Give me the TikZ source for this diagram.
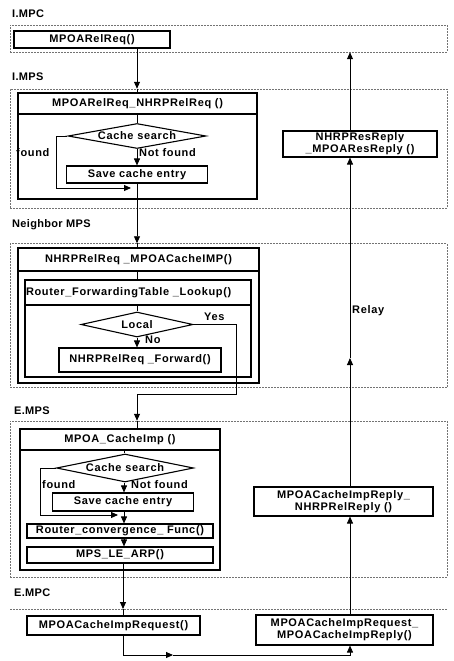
\documentclass[tikz,border=0pt]{standalone}
\usepackage{fontspec}
\setmainfont{Liberation Sans}[LetterSpace=6]
\newfontfamily\secfam{Liberation Sans}[LetterSpace=3]
\usetikzlibrary{shapes.geometric,arrows.meta}
\newcommand{\bxf}{\bfseries\fontsize{11}{12}\selectfont}
\newcommand{\secf}{\secfam\bfseries\fontsize{11}{12}\selectfont}
\tikzset{
  region/.style={draw=black!55, dash pattern=on 2pt off 1pt, line width=0.5pt, inner sep=0pt},
  regline/.style={draw=black!55, dash pattern=on 2pt off 1pt, line width=0.5pt},
  box/.style={draw, line width=1.1pt, inner sep=0pt, font=\bxf, align=center},
  frame/.style={draw, line width=1.1pt, inner sep=0pt},
  dia/.style={draw, diamond, line width=1.1pt, inner sep=0pt, font=\bxf},
  conn/.style={line width=0.9pt},
  arr/.style={conn, -{Triangle[length=7pt,width=6pt]}},
  lab/.style={font=\bxf, inner sep=0pt, anchor=west},
  sec/.style={font=\secf, inner sep=0pt, anchor=west},
}
\begin{document}
\begin{tikzpicture}[x=1pt,y=-1pt]
\useasboundingbox (0,0) rectangle (453,661);
% regions
\node[region, minimum width=437pt, minimum height=27pt] (r1) at (228.5,38.5) {};
\node[region, minimum width=437pt, minimum height=119pt] (r2) at (228.5,148.5) {};
\node[region, minimum width=437pt, minimum height=144pt] (r3) at (228.5,315.5) {};
\node[region, minimum width=437pt, minimum height=156pt] (r4) at (228.5,499) {};
\coordinate (r5w) at (10,609);
\coordinate (r5e) at (447,609);
\draw[regline] (r5w) -- (r5e);
% section labels
\node[sec] (s1) at (12,14) {I.MPC};
\node[sec] (s2) at (12,77) {I.MPS};
\node[sec] (s3) at (12,225) {Neighbor MPS};
\node[sec] (s4) at (14,411) {E.MPS};
\node[sec] (s5) at (14,593) {E.MPC};
% column coordinates
\coordinate (mx1) at (137,0);
\coordinate (mx3) at (124,0);
\coordinate (mx4) at (123,0);
\coordinate (rx) at (350,0);
% I.MPC
\node[box, minimum width=156pt, minimum height=17pt] (mpcreq) at (92,39.5) {MPOARelReq()};
% I.MPS
\node[frame, minimum width=239pt, minimum height=106pt] (o1) at (137.5,146) {};
\node[box, minimum width=239pt, minimum height=21pt] (hdr1) at (137.5,103.5) {MPOARelReq\_NHRPRelReq ()};
\node[dia, aspect=5.3, minimum width=138pt, minimum height=25pt] (cs1) at (137,136) {Cache search};
\node[box, minimum width=141pt, minimum height=17pt] (save1) at (137,174.5) {Save cache entry};
\node[lab] (fd1) at (16,153) {found};
\node[lab] (nf1) at (139,153) {Not found};
\node[box, minimum width=154pt, minimum height=26pt] (resreply) at (360,144) {NHRPResReply\\\_MPOAResReply ()};
% Neighbor MPS
\node[frame, minimum width=241pt, minimum height=135pt] (o2) at (138.5,315.5) {};
\node[box, minimum width=241pt, minimum height=23pt] (hdr2) at (138.5,259.5) {NHRPRelReq \_MPOACacheIMP()};
\node[frame, minimum width=226pt, minimum height=97pt] (in2) at (138,328.5) {};
\node[box, minimum width=226pt, minimum height=25pt, text width=224pt, align=left] (hdr2i) at (138,292.5) {Router\_ForwardingTable \_Lookup()};
\node[dia, aspect=4.7, minimum width=112pt, minimum height=25pt] (local) at (137,324.5) {Local};
\node[lab] (yes) at (204,317) {Yes};
\node[lab] (no) at (145,340) {No};
\node[box, minimum width=162pt, minimum height=24pt] (fwd) at (140,360) {NHRPRelReq \_Forward()};
\node[lab] (relay) at (352,311) {Relay};
% E.MPS
\node[frame, minimum width=200pt, minimum height=141pt] (o3) at (120,499.5) {};
\node[box, minimum width=200pt, minimum height=21pt] (hdr3) at (120,439.5) {MPOA\_CacheImp ()};
\node[dia, aspect=5.1, minimum width=137pt, minimum height=28pt] (cs3) at (125,468) {Cache search};
\node[lab] (fd3) at (42,485) {found};
\node[lab] (nf3) at (131,485) {Not found};
\node[box, minimum width=141pt, minimum height=18pt] (save3) at (123,502) {Save cache entry};
\node[box, minimum width=186pt, minimum height=14pt] (router) at (120,531) {Router\_convergence\_ Func()};
\node[box, minimum width=186pt, minimum height=16pt] (learp) at (120,555) {MPS\_LE\_ARP()};
\node[box, minimum width=179pt, minimum height=29pt] (cimpreply) at (343.5,501.5) {MPOACacheImpReply\_\\NHRPRelReply ()};
% E.MPC
\node[box, minimum width=173pt, minimum height=19pt] (creq) at (113.5,625.5) {MPOACacheImpRequest()};
\node[box, minimum width=177pt, minimum height=30pt] (creqreply) at (344.5,630) {MPOACacheImpRequest\_\\MPOACacheImpReply()};
% helper coordinates
\coordinate (f1b) at (56,188);
\coordinate (f1c) at (131,188);
\coordinate (y1) at (236,394);
\coordinate (y2) at (137,394);
\coordinate (f3b) at (40,515);
\coordinate (f3c) at (118,515);
\coordinate (b1) at (123,655);
\coordinate (b2) at (173,655);
\coordinate (m1) at (350,358);
% connectors: left column
\draw[arr] (mpcreq.south -| mx1) -- (r2.north -| mx1);
\draw[conn] (r2.north -| mx1) -- (hdr1.north -| mx1);
\draw[conn] (hdr1.south -| mx1) -- (cs1.north);
\draw[arr] (cs1.south) -- (save1.north);
\draw[arr] (cs1.west) -| (f1b) -- (f1c);
\draw[arr] (save1.south -| mx1) -- (r3.north -| mx1);
\draw[conn] (r3.north -| mx1) -- (hdr2.north -| mx1);
\draw[conn] (hdr2.south -| mx1) -- (hdr2i.north -| mx1);
\draw[conn] (hdr2i.south -| mx1) -- (local.north);
\draw[arr] (local.south) -- (fwd.north -| local.south);
\draw[arr] (local.east) -| (y1) -- (y2) -- (r4.north -| y2);
\draw[conn] (r4.north -| y2) -- (hdr3.north -| y2);
\draw[conn] (hdr3.south -| mx3) -- (cs3.north -| mx3);
\draw[arr] (cs3.south -| mx3) -- (save3.north -| mx3);
\draw[arr] (cs3.west) -| (f3b) -- (f3c);
\draw[arr] (save3.south -| mx3) -- (router.north -| mx3);
\draw[arr] (router.south -| mx3) -- (learp.north -| mx3);
\draw[arr] (learp.south -| mx4) -- (r5w -| mx4);
\draw[conn] (r5w -| mx4) -- (creq.north -| mx4);
\draw[arr] (creq.south -| mx4) -- (b1) -- (b2);
\draw[arr] (b2) -| (creqreply.south -| rx);
% right column
\draw[arr] (creqreply.north -| rx) -- (cimpreply.south -| rx);
\draw[arr] (cimpreply.north -| rx) -- (m1);
\draw[arr] (m1) -- (resreply.south -| rx);
\draw[arr] (resreply.north -| rx) -- (r1.south -| rx);
\end{tikzpicture}
\end{document}
